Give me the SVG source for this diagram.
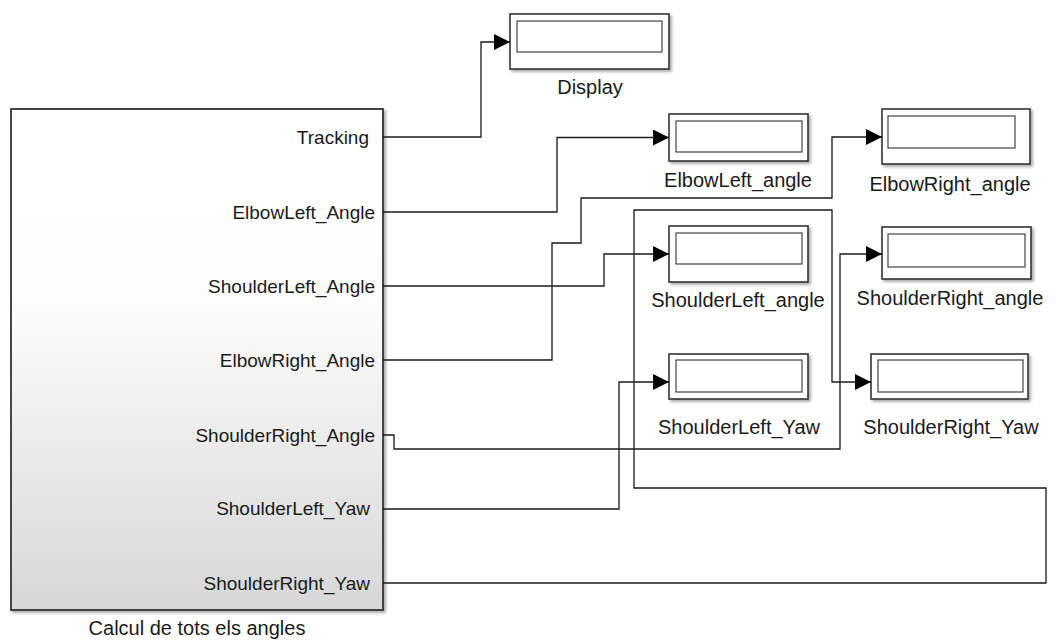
<svg xmlns="http://www.w3.org/2000/svg" width="1056" height="642" viewBox="0 0 1056 642">
<defs>
<linearGradient id="gBody" x1="0" y1="0" x2="0" y2="1">
<stop offset="0" stop-color="#ffffff"/>
<stop offset="0.38" stop-color="#fdfdfd"/>
<stop offset="1" stop-color="#d7d7d7"/>
</linearGradient>
<filter id="shadow" x="-5%" y="-5%" width="115%" height="115%">
<feDropShadow dx="2" dy="2" stdDeviation="1.5" flood-color="#000" flood-opacity="0.35"/>
</filter>
<marker id="arrow" markerUnits="userSpaceOnUse" markerWidth="17" markerHeight="16" refX="16" refY="8" orient="auto">
<path d="M0,0 L16,8 L0,16 z" fill="#000"/>
</marker>
<style>
.wire{fill:none;stroke:#1a1a1a;stroke-width:1.3}
.outer{fill:#fff;stroke:#333;stroke-width:1.6}
.inner{fill:#fff;stroke:#444;stroke-width:1.2}
.port{font-family:"Liberation Sans",Arial,sans-serif;font-size:19px;fill:#1a1a1a;text-anchor:end}
.lbl{font-family:"Liberation Sans",Arial,sans-serif;font-size:20px;fill:#1a1a1a;text-anchor:middle}
</style>
</defs>
<rect width="1056" height="642" fill="#fff"/>

<g id="calcul">
<rect x="11" y="109" width="372" height="501" fill="url(#gBody)" stroke="#333" stroke-width="1.8" filter="url(#shadow)"/>
<text class="port" x="369" y="144">Tracking</text>
<text class="port" x="375" y="219">ElbowLeft_Angle</text>
<text class="port" x="375" y="293">ShoulderLeft_Angle</text>
<text class="port" x="375" y="367">ElbowRight_Angle</text>
<text class="port" x="375" y="442">ShoulderRight_Angle</text>
<text class="port" x="370" y="515">ShoulderLeft_Yaw</text>
<text class="port" x="370" y="590">ShoulderRight_Yaw</text>
<text class="lbl" x="197" y="635">Calcul de tots els angles</text>
</g>

<g id="display">
<rect class="outer" x="510" y="14" width="159" height="55" filter="url(#shadow)"/>
<rect class="inner" x="517" y="21" width="145" height="31"/>
<text class="lbl" x="590" y="94">Display</text>
</g>

<g id="elbowleft_angle">
<rect class="outer" x="669" y="114" width="139" height="47" filter="url(#shadow)"/>
<rect class="inner" x="676" y="121" width="126" height="31"/>
<text class="lbl" x="738" y="187">ElbowLeft_angle</text>
</g>

<g id="elbowright_angle">
<rect class="outer" x="882" y="109" width="148" height="55" filter="url(#shadow)"/>
<rect class="inner" x="888" y="116" width="127" height="32"/>
<text class="lbl" x="950" y="191">ElbowRight_angle</text>
</g>

<g id="shoulderleft_angle">
<rect class="outer" x="669" y="226" width="139" height="56" filter="url(#shadow)"/>
<rect class="inner" x="676" y="233" width="126" height="31"/>
<text class="lbl" x="738" y="307">ShoulderLeft_angle</text>
</g>

<g id="shoulderright_angle">
<rect class="outer" x="882" y="227" width="149" height="52" filter="url(#shadow)"/>
<rect class="inner" x="888" y="234" width="137" height="33"/>
<text class="lbl" x="950" y="305">ShoulderRight_angle</text>
</g>

<g id="shoulderleft_yaw">
<rect class="outer" x="669" y="354" width="139" height="45" filter="url(#shadow)"/>
<rect class="inner" x="676" y="360" width="126" height="32"/>
<text class="lbl" x="739" y="434">ShoulderLeft_Yaw</text>
</g>

<g id="shoulderright_yaw">
<rect class="outer" x="871" y="354" width="157" height="45" filter="url(#shadow)"/>
<rect class="inner" x="878" y="360" width="145" height="32"/>
<text class="lbl" x="951" y="434">ShoulderRight_Yaw</text>
</g>

<g id="connectors">
<path class="wire" marker-end="url(#arrow)" d="M383,137 H481 V42 H510"/>
<path class="wire" marker-end="url(#arrow)" d="M383,212 H557 V137.5 H669"/>
<path class="wire" marker-end="url(#arrow)" d="M383,286 H604 V254 H669"/>
<path class="wire" marker-end="url(#arrow)" d="M383,360 H552 V243 H581 V198 H832 V137 H882"/>
<path class="wire" marker-end="url(#arrow)" d="M383,435 H394 V449 H840 V254 H882"/>
<path class="wire" marker-end="url(#arrow)" d="M383,509 H619 V382 H669"/>
<path class="wire" marker-end="url(#arrow)" d="M383,583 H1046 V488 H634 V210 H832 V382 H871"/>
</g>
</svg>
